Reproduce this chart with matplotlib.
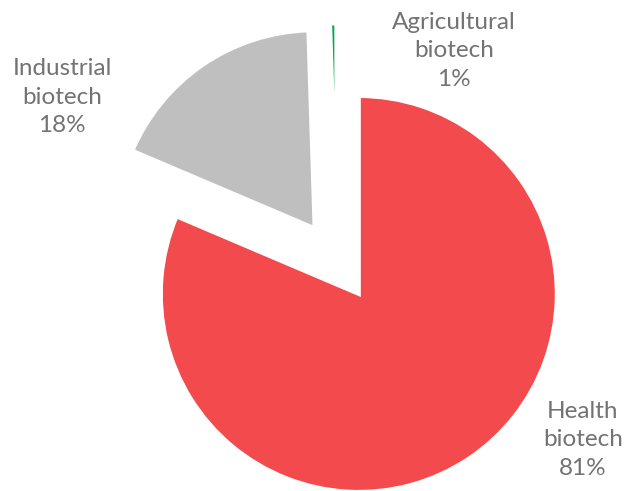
import matplotlib
matplotlib.use("Agg")
import matplotlib.pyplot as plt

categories = ["Health\nbiotech", "Industrial\nbiotech", "Agricultural\nbiotech"]
values = [81.4, 18.1, 0.5]
pct_labels = ["81%", "18%", "1%"]
colors = ["#F24A4D", "#BFBFBF", "#00A651"]

# label centres in data units (pie radius = 1)
label_pos = [(1.242, -0.904), (-1.389, 0.828), (0.591, 1.061)]

fig = plt.figure(figsize=(6.26, 4.91), dpi=100)
ax = fig.add_axes([0, 0, 1, 1])
wedges, _ = ax.pie(values, colors=colors, startangle=90, counterclock=False,
                   explode=[0.2, 0.2, 0.2], radius=1.0,
                   wedgeprops=dict(edgecolor="white", linewidth=2.9))
ax.set_xlim(-1.702, 1.460)
ax.set_ylim(-1.162, 1.318)
ax.set_aspect("equal")
ax.axis("off")

for cat, pct, (x, y) in zip(categories, pct_labels, label_pos):
    ax.text(x, y, f"{cat}\n{pct}", ha="center", va="center", fontsize=17.5,
            family=["Lato", "DejaVu Sans"], fontweight="normal",
            color="#737373", linespacing=1.42)

fig.savefig("out.png", dpi=100)
